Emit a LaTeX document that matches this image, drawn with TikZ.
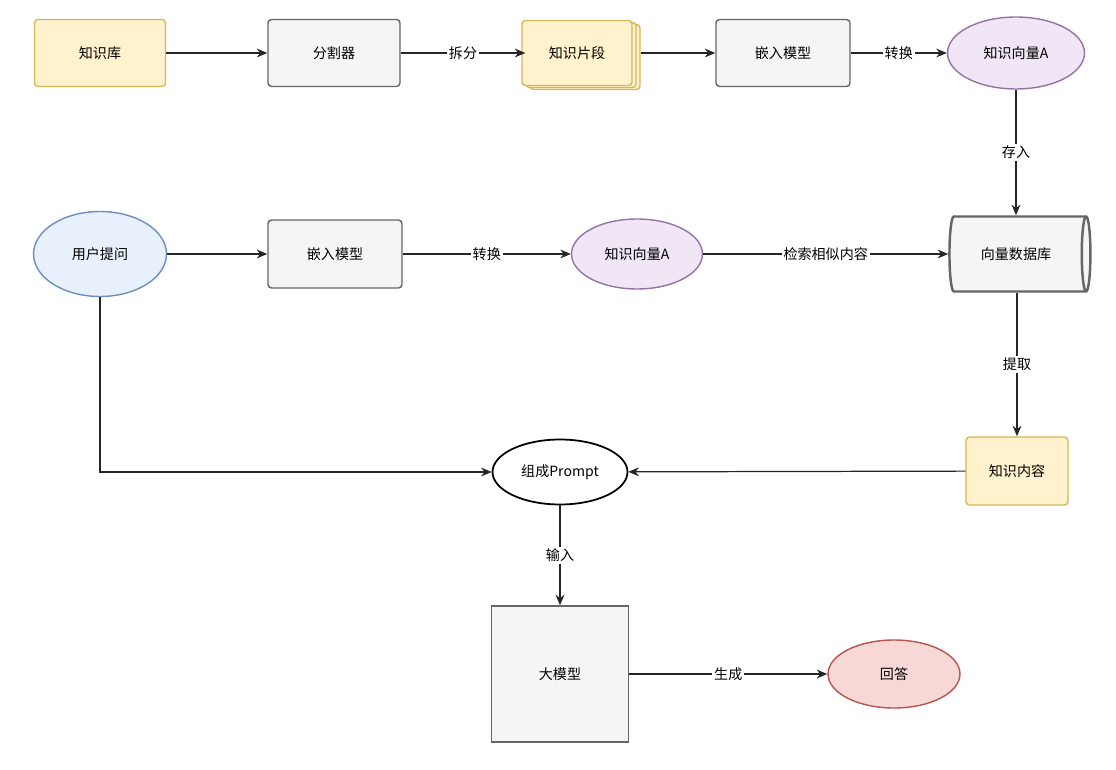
\documentclass[tikz,border=0pt]{standalone}
\usepackage{fontspec}
\setmainfont{Noto Sans CJK SC}
\usetikzlibrary{shapes.geometric,arrows.meta}
\definecolor{ybd}{HTML}{D6B656}\definecolor{yfl}{HTML}{FFF2CC}
\definecolor{pbd}{HTML}{9673A6}\definecolor{pfl}{HTML}{F0E6F5}
\definecolor{bbd}{HTML}{6C8EBF}\definecolor{bfl}{HTML}{E8F0FC}
\definecolor{rbd}{HTML}{B85450}\definecolor{rfl}{HTML}{F8D8D6}
\definecolor{gbd}{HTML}{666666}\definecolor{gfl}{HTML}{F5F5F5}
\begin{document}
\begin{tikzpicture}[x=0.02cm,y=-0.02cm,font=\fontsize{8}{10}\selectfont,
 box/.style={draw=gbd,fill=gfl,line width=0.8pt,rounded corners=2pt,minimum width=2.64cm,minimum height=1.34cm},
 ybox/.style={box,draw=ybd,fill=yfl},
 ell/.style={ellipse,line width=0.8pt,minimum width=2.66cm,minimum height=1.4cm},
 arr/.style={-{Stealth[length=6pt,width=5pt]},line width=0.7pt,draw=black!85},
 lab/.style={fill=white,inner sep=1pt}]
\useasboundingbox (0,0) rectangle (1116,770);
\node[ybox,minimum width=2.62cm] (kb) at (100,53) {知识库};
\node[box] (split) at (334,53) {分割器};
\node[ybox,minimum width=2.2cm,minimum height=1.3cm] (s3) at (585,57) {};
\node[ybox,minimum width=2.2cm,minimum height=1.3cm] (s2) at (581,55) {};
\node[ybox,minimum width=2.2cm,minimum height=1.3cm] (frag) at (577,53) {知识片段};
\node[box,minimum width=2.68cm] (emb1) at (783,53) {嵌入模型};
\node[ell,draw=pbd,fill=pfl,minimum width=2.74cm,minimum height=1.44cm] (vecA1) at (1016,53) {知识向量A};
\node[cylinder,draw=gbd,fill=gfl,line width=1.4pt,shape aspect=0.35,minimum width=1.5cm,minimum height=2.82cm] (db) at (1016,254) {向量数据库};
\node[ell,draw=bbd,fill=bfl,minimum height=1.7cm] (q) at (100,254) {用户提问};
\node[box,minimum width=2.68cm,minimum height=1.36cm] (emb2) at (335,254) {嵌入模型};
\node[ell,draw=pbd,fill=pfl,minimum width=2.62cm] (vecA2) at (637,254) {知识向量A};
\node[ell,draw=black,fill=white,line width=1pt,minimum width=2.7cm,minimum height=1.3cm] (pr) at (560,472) {组成Prompt};
\node[ybox,minimum width=2.04cm,minimum height=1.36cm] (kc) at (1017,471) {知识内容};
\node[box,minimum width=2.74cm,minimum height=2.72cm,rounded corners=0pt] (llm) at (560,674) {大模型};
\node[ell,draw=rbd,fill=rfl,minimum width=2.64cm,minimum height=1.36cm] (ans) at (894,674) {回答};
\draw[arr] (kb) -- (split);
\draw[arr] (split) -- node[lab]{拆分} (s2.west |- frag.west);
\draw[arr] (s3.east |- frag.east) -- (emb1);
\draw[arr] (emb1) -- node[lab]{转换} (vecA1);
\draw[arr] (vecA1) -- node[lab]{存入} (db.north -| vecA1);
\draw[arr] (q) -- (emb2);
\draw[arr] (emb2) -- node[lab]{转换} (vecA2);
\draw[arr] (vecA2) -- node[lab]{检索相似内容} (db);
\draw[arr] (db.south -| kc) -- node[lab]{提取} (kc);
\draw[arr] (kc) -- (pr);
\draw[arr] (q.south) |- (pr.west);
\draw[arr] (pr) -- node[lab]{输入} (llm);
\draw[arr] (llm) -- node[lab]{生成} (ans);
\end{tikzpicture}
\end{document}
